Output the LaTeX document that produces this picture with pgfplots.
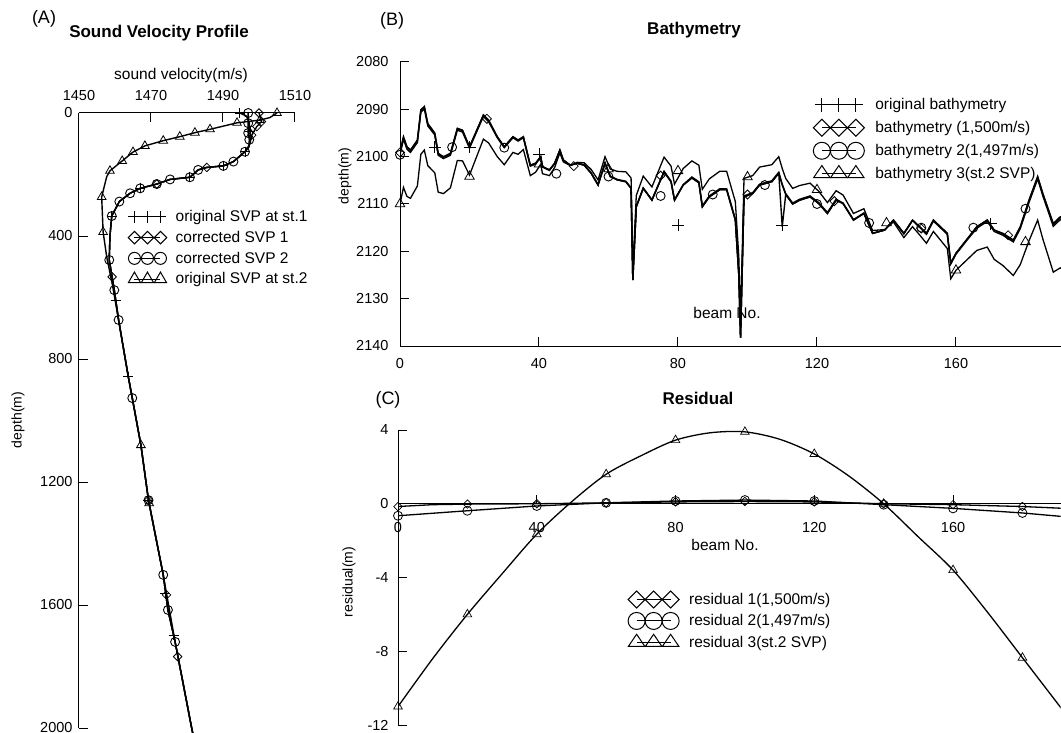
\documentclass[border=0pt]{standalone}
\usepackage{fontspec}
\setmainfont{Liberation Sans}
\usepackage{pgfplots}
\pgfplotsset{compat=1.18}
\usepackage{pgfplotstable}

% ---------------- Panel A: sound velocity profiles (depth, velocity)
\pgfplotstableread{
d v
0 1494.7
10 1496.5
30 1497.3
60 1497.5
90 1497.5
110 1497.2
126 1496.1
158 1492.9
172 1490.1
177 1485.5
185 1483.1
209 1480.8
216 1475.3
231 1471.6
245 1467.0
261 1464.2
288 1461.2
335 1459.1
400 1458.6
478 1458.4
533 1459.2
576 1459.8
673 1461.0
858 1463.7
927 1464.8
1080 1467.2
1259 1469.3
1502 1473.4
1616 1474.7
1720 1476.7
2000 1481.3
2050 1482.2
}\svpone
\pgfplotstableread{
d v
0 1500.0
28 1500.7
44 1499.4
72 1498.0
100 1497.5
126 1496.1
158 1492.9
172 1490.1
177 1485.5
185 1483.1
209 1480.8
216 1475.3
231 1471.6
245 1467.0
261 1464.2
288 1461.2
335 1459.1
400 1458.6
478 1458.4
533 1459.2
576 1459.8
673 1461.0
858 1463.7
927 1464.8
1080 1467.2
1259 1469.3
1502 1473.4
1616 1474.7
1720 1476.7
2000 1481.3
2050 1482.2
}\svpcorA
\pgfplotstableread{
d v
0 1497.0
33 1497.0
65 1497.0
87 1497.3
110 1497.2
126 1496.1
158 1492.9
172 1490.1
177 1485.5
185 1483.1
209 1480.8
216 1475.3
231 1471.6
245 1467.0
261 1464.2
288 1461.2
335 1459.1
400 1458.6
478 1458.4
533 1459.2
576 1459.8
673 1461.0
858 1463.7
927 1464.8
1080 1467.2
1259 1469.3
1502 1473.4
1616 1474.7
1720 1476.7
2000 1481.3
2050 1482.2
}\svpcorB
\pgfplotstableread{
d v
0 1505.0
15 1503.0
23 1500.3
32 1493.9
53 1486.4
64 1482.2
77 1478.0
90 1473.4
107 1468.3
127 1465.0
156 1462.0
188 1458.6
207 1457.7
273 1456.3
387 1456.7
468 1457.7
560 1459.3
673 1461.0
858 1463.7
1080 1467.2
1259 1469.3
1502 1473.4
1720 1476.7
2000 1481.3
2050 1482.2
}\svptwo
% marker positions
\pgfplotstableread{
d v
0 1494.7
60 1497.5
126 1496.1
172 1490.1
209 1480.8
245 1467.0
335 1459.1
608 1460.2
858 1463.7
1259 1469.3
1561 1474.0
1698 1476.3
}\mkone
\pgfplotstableread{
d v
0 1500.0
28 1500.7
44 1499.4
72 1498.0
177 1485.5
231 1471.6
533 1459.2
1259 1469.3
1567 1474.3
1768 1477.4
}\mkcorA
\pgfplotstableread{
d v
0 1497.0
33 1497.0
65 1497.0
87 1497.3
126 1496.1
158 1492.9
172 1490.1
185 1483.1
209 1480.8
216 1475.3
231 1471.6
245 1467.0
261 1464.2
288 1461.2
335 1459.1
478 1458.4
576 1459.8
673 1461.0
927 1464.8
1259 1469.3
1502 1473.4
1616 1474.7
1720 1476.7
}\mkcorB
\pgfplotstableread{
d v
0 1505.0
23 1500.3
32 1493.9
53 1486.4
64 1482.2
77 1478.0
90 1473.4
107 1468.3
127 1465.0
156 1462.0
188 1458.6
273 1456.3
387 1456.7
1080 1467.2
1269 1469.5
}\mktwo

% ---------------- Panel B: bathymetry
\pgfplotstableread{
x o b1 b2 b3
0 2099.0 2099.1 2099.6 2110.0
1 2095.8 2095.9 2096.3 2106.5
2 2097.9 2098.0 2098.4 2108.4
3 2098.6 2098.7 2099.1 2108.8
5 2096.5 2096.6 2097.0 2106.2
6 2090.1 2090.2 2090.6 2099.5
7 2089.4 2089.5 2089.9 2098.6
8 2093.0 2093.1 2093.5 2101.9
10 2095.0 2095.1 2095.4 2103.4
11 2099.3 2099.4 2099.7 2107.5
12.5 2100.0 2100.1 2100.4 2107.8
14.5 2099.3 2099.4 2099.7 2106.6
16.5 2094.0 2094.1 2094.4 2100.8
18 2094.4 2094.5 2094.8 2100.9
20 2097.9 2098.0 2098.2 2103.9
24 2091.2 2091.2 2091.5 2096.3
25.5 2092.3 2092.3 2092.6 2097.1
28 2095.8 2095.8 2096.0 2100.0
30 2097.9 2097.9 2098.1 2101.7
32.5 2095.8 2095.8 2096.0 2099.1
34 2096.5 2096.5 2096.7 2099.5
35.5 2095.8 2095.8 2096.0 2098.5
37.5 2101.8 2101.8 2102.0 2104.0
39 2101.4 2101.4 2101.6 2103.3
40.5 2100.0 2100.0 2100.1 2101.6
41 2102.1 2102.1 2102.2 2103.6
43 2102.8 2102.8 2102.9 2104.0
44.5 2101.4 2101.4 2101.5 2102.3
46 2098.6 2098.6 2098.7 2099.2
47 2100.7 2100.7 2100.8 2101.1
49 2101.8 2101.8 2101.8 2101.9
51 2101.4 2101.4 2101.4 2101.2
53 2101.8 2101.8 2101.7 2101.3
55 2103.5 2103.5 2103.4 2102.7
57 2106.0 2106.0 2105.9 2104.9
59 2101.4 2101.4 2101.3 2100.0
60.5 2104.2 2104.2 2104.1 2102.6
62.5 2104.9 2104.9 2104.8 2103.1
65 2105.3 2105.3 2105.2 2103.2
66.5 2106.7 2106.7 2106.6 2104.5
67 2126.1 2126.1 2126.0 2123.8
68 2110.6 2110.6 2110.5 2108.2
70 2106.7 2106.7 2106.6 2104.1
72.5 2109.2 2109.2 2109.1 2106.4
76 2103.2 2103.2 2103.1 2100.1
78 2105.3 2105.3 2105.2 2102.0
79 2109.2 2109.2 2109.1 2105.8
81.5 2106.0 2106.0 2105.9 2102.5
84 2104.5 2104.5 2104.3 2100.9
86 2105.5 2105.5 2105.3 2101.8
87 2110.6 2110.6 2110.4 2106.9
89 2108.5 2108.5 2108.3 2104.7
92 2107.0 2107.0 2106.8 2103.1
94 2107.0 2107.0 2106.8 2103.1
96.5 2113.4 2113.4 2113.2 2109.5
97.5 2125.0 2125.0 2124.8 2121.1
98 2138.3 2138.3 2138.1 2134.4
99 2108.5 2108.5 2108.3 2104.6
101.5 2107.8 2107.8 2107.6 2104.0
103.5 2106.0 2106.0 2105.8 2102.2
107 2105.3 2105.3 2105.1 2101.7
109 2103.5 2103.5 2103.3 2100.0
110 2114.8 2106.0 2105.8 2102.5
111 2108.0 2108.0 2107.8 2104.6
113 2110.0 2110.0 2109.8 2106.7
115 2109.2 2109.2 2109.0 2106.1
118 2108.5 2108.5 2108.3 2105.6
120.5 2109.9 2109.9 2109.7 2107.3
123 2112.0 2112.0 2111.8 2109.7
125.5 2109.2 2109.2 2109.0 2107.2
127.5 2109.9 2109.9 2109.8 2108.1
130.5 2113.4 2113.4 2113.3 2112.0
133.5 2112.0 2112.0 2111.9 2111.0
136 2116.2 2116.2 2116.2 2115.6
139.5 2115.5 2115.5 2115.5 2115.4
142 2113.4 2113.4 2113.4 2113.8
145 2116.2 2116.2 2116.3 2117.1
147.5 2113.4 2113.4 2113.5 2114.8
149.5 2114.8 2114.8 2114.9 2116.5
151.5 2116.2 2116.2 2116.4 2118.3
153.5 2113.4 2113.4 2113.6 2115.8
155.5 2114.8 2114.8 2115.0 2117.6
157.5 2116.2 2116.2 2116.4 2119.4
158.5 2122.5 2122.5 2122.7 2125.8
160 2120.4 2120.4 2120.6 2124.0
163 2117.6 2117.6 2117.8 2121.9
166 2114.8 2114.8 2115.1 2119.8
169 2113.4 2113.4 2113.7 2119.1
171 2115.5 2115.5 2115.8 2121.7
173.5 2116.2 2116.3 2116.6 2123.0
176.5 2117.6 2117.7 2118.0 2125.1
178.5 2114.8 2114.9 2115.2 2122.8
181 2109.2 2109.3 2109.7 2117.8
183.5 2104.2 2104.3 2104.7 2113.4
185 2107.8 2107.9 2108.3 2117.4
188 2114.1 2114.3 2114.7 2124.4
190 2112.7 2112.9 2113.3 2123.5
191.5 2113.0 2113.2 2113.6 2124.2
}\bathy
\pgfplotstableread{
x d
10 2098.0
20 2098.0
40 2099.5
80 2114.5
110 2114.5
170 2114.2
}\mkbo
\pgfplotstableread{
x d
0 2099.1
25 2092.0
50 2102.0
75 2104.0
100 2108.0
125 2109.4
150 2115.2
175 2116.6
}\mkbone
\pgfplotstableread{
x d
0 2099.6
15 2098.0
30 2098.1
45 2103.6
60 2104.2
75 2108.3
90 2108.0
105 2106.0
120 2110.0
135 2114.0
150 2115.0
165 2115.0
180 2111.0
}\mkbtwo
\pgfplotstableread{
x d
0 2110.0
20 2104.2
40 2101.6
60 2102.6
80 2103.0
100 2104.3
120 2107.0
140 2114.0
160 2124.0
180 2118.0
}\mkbthree

% ---------------- Panel C: residuals
\pgfplotstableread{
x r
0 -0.15
10 -0.05
20 -0.02
40 0.0
60 0.05
80 0.1
100 0.12
120 0.1
140 0.0
160 -0.05
180 -0.15
192 -0.25
}\resone
\pgfplotstableread{
x r
0 -0.65
20 -0.38
40 -0.12
60 0.05
80 0.15
100 0.2
120 0.15
140 -0.05
160 -0.25
180 -0.5
192 -0.7
}\restwo
\pgfplotstableread{
x r
0 -11.0
10 -8.4
20 -6.0
30 -3.8
40 -1.65
50 0.1
60 1.6
70 2.6
80 3.45
90 3.85
100 3.9
110 3.5
120 2.7
130 1.5
140 0.0
150 -1.8
160 -3.6
170 -5.9
180 -8.35
190 -10.8
192 -11.3
}\resthree

\pgfplotsset{
  myaxis/.style={
    scale only axis,
    tick align=inside,
    major tick length=9pt,
    axis line style={line width=1pt, black},
    every tick/.style={line width=1pt, black},
    tick label style={font=\fontsize{14.5}{16}\selectfont},
    /pgf/number format/assume math mode=true,
    /pgf/number format/1000 sep={},
    legend cell align=left,
  },
}
\newcommand{\labfont}{\fontsize{15.5}{18}\selectfont}
\newcommand{\ylabfont}{\fontsize{14}{16}\selectfont}

\begin{document}
\begin{tikzpicture}
\useasboundingbox (0pt,0pt) rectangle (1061pt,-733pt);
\clip (0pt,0pt) rectangle (1061pt,-733pt);

% ================= Panel A
\begin{axis}[myaxis,
  at={(79pt,-113pt)}, anchor=north west,
  width=216pt, height=615pt,
  xmin=1450, xmax=1510, ymin=-2000, ymax=0,
  axis x line*=top, axis y line*=left,
  xtick={1450,1470,1490,1510},
  ytick={-2000,-1600,-1200,-800,-400,0},
  yticklabels={2000,1600,1200,800,400,0},
  xticklabel shift=9pt, yticklabel shift=3pt,
  clip=false,
  legend style={draw=none, fill=none, at={(0.227,0.845)}, anchor=north west,
    font=\labfont, row sep=4pt, column sep=7pt, inner sep=0pt},
  legend image code/.code={\draw[#1] plot coordinates {(0pt,0pt) (13pt,0pt) (26pt,0pt)};},
]
\addlegendimage{black, line width=1pt, mark=+, mark size=6pt}
\addlegendentry{original SVP at st.1}
\addlegendimage{black, line width=1pt, mark=square, mark size=4.4pt, mark options={rotate=45}}
\addlegendentry{corrected SVP 1}
\addlegendimage{black, line width=1pt, mark=o, mark size=6pt}
\addlegendentry{corrected SVP 2}
\addlegendimage{black, line width=1pt, mark=triangle, mark size=7pt}
\addlegendentry{original SVP at st.2}

\addplot[forget plot, black, line width=1.4pt] table[x=v, y expr=-\thisrow{d}] {\svptwo};
\addplot[forget plot, black, line width=1.4pt] table[x=v, y expr=-\thisrow{d}] {\svpone};
\addplot[forget plot, black, line width=1.4pt] table[x=v, y expr=-\thisrow{d}] {\svpcorA};
\addplot[forget plot, black, line width=1.4pt] table[x=v, y expr=-\thisrow{d}] {\svpcorB};
\addplot[forget plot, only marks, black, mark=+, mark size=5pt, mark options={line width=0.9pt}] table[x=v, y expr=-\thisrow{d}] {\mkone};
\addplot[forget plot, only marks, black, mark=square, mark size=3pt, mark options={rotate=45, line width=0.8pt, fill=white}] table[x=v, y expr=-\thisrow{d}] {\mkcorA};
\addplot[forget plot, only marks, black, mark=o, mark size=4.5pt, mark options={line width=0.9pt}] table[x=v, y expr=-\thisrow{d}] {\mkcorB};
\addplot[forget plot, only marks, black, mark=triangle, mark size=5pt, mark options={line width=0.8pt, fill=white}] table[x=v, y expr=-\thisrow{d}] {\mktwo};
\end{axis}

% ================= Panel B
\begin{axis}[myaxis,
  at={(400pt,-62pt)}, anchor=north west,
  width=663.7pt, height=284pt,
  xmin=0, xmax=191, ymin=-2140, ymax=-2080,
  axis x line*=bottom, axis y line*=left,
  xtick={0,40,80,120,160},
  ytick={-2140,-2130,-2120,-2110,-2100,-2090,-2080},
  yticklabels={2140,2130,2120,2110,2100,2090,2080},
  xticklabel shift=9pt, yticklabel shift=8pt,
  legend style={draw=none, fill=none, at={(0.6225,0.879)}, anchor=north west,
    font=\labfont, row sep=6pt, column sep=9pt, inner sep=0pt},
  legend image code/.code={\draw[#1] plot coordinates {(0pt,0pt) (17pt,0pt) (34pt,0pt)};},
]
\addlegendimage{black, line width=1pt, mark=+, mark size=7pt}
\addlegendentry{original bathymetry}
\addlegendimage{black, line width=1pt, mark=square, mark size=6pt, mark options={rotate=45}}
\addlegendentry{bathymetry (1,500m/s)}
\addlegendimage{black, line width=1pt, mark=o, mark size=8.5pt}
\addlegendentry{bathymetry 2(1,497m/s)}
\addlegendimage{black, line width=1pt, mark=triangle, mark size=9.5pt, mark options={yscale=0.85}}
\addlegendentry{bathymetry 3(st.2 SVP)}

\addplot[forget plot, black, line width=1.3pt] table[x=x, y expr=-\thisrow{b3}] {\bathy};
\addplot[forget plot, black, line width=1.4pt] table[x=x, y expr=-\thisrow{b2}] {\bathy};
\addplot[forget plot, black, line width=1.4pt] table[x=x, y expr=-\thisrow{b1}] {\bathy};
\addplot[forget plot, black, line width=1.4pt] table[x=x, y expr=-\thisrow{o}] {\bathy};
\addplot[forget plot, only marks, black, mark=+, mark size=6pt, mark options={line width=0.9pt}] table[x=x, y expr=-\thisrow{d}] {\mkbo};
\addplot[forget plot, only marks, black, mark=square, mark size=3.2pt, mark options={rotate=45, line width=0.8pt, fill=white}] table[x=x, y expr=-\thisrow{d}] {\mkbone};
\addplot[forget plot, only marks, black, mark=o, mark size=4.5pt, mark options={line width=0.9pt}] table[x=x, y expr=-\thisrow{d}] {\mkbtwo};
\addplot[forget plot, only marks, black, mark=triangle, mark size=5.5pt, mark options={line width=0.8pt, fill=white}] table[x=x, y expr=-\thisrow{d}] {\mkbthree};
\end{axis}

% ================= Panel C
\begin{axis}[myaxis,
  at={(398pt,-430pt)}, anchor=north west,
  width=662.6pt, height=295pt,
  xmin=0, xmax=191, ymin=-12, ymax=4,
  axis x line*=middle, axis y line*=left,
  hide obscured x ticks=false,
  xtick={0,40,80,120,160},
  ytick={-12,-8,-4,0,4},
  xticklabel shift=15pt, yticklabel shift=6pt,
  legend style={draw=none, fill=none, at={(0.347,0.455)}, anchor=north west,
    font=\labfont, row sep=4.5pt, column sep=8pt, inner sep=0pt},
  legend image code/.code={\draw[#1] plot coordinates {(0pt,0pt) (17pt,0pt) (34pt,0pt)};},
]
\addlegendimage{black, line width=1pt, mark=square, mark size=6pt, mark options={rotate=45}}
\addlegendentry{residual 1(1,500m/s)}
\addlegendimage{black, line width=1pt, mark=o, mark size=8.5pt}
\addlegendentry{residual 2(1,497m/s)}
\addlegendimage{black, line width=1pt, mark=triangle, mark size=9.5pt, mark options={yscale=0.85}}
\addlegendentry{residual 3(st.2 SVP)}

\addplot[forget plot, black, line width=1.3pt, smooth, mark=triangle, mark size=5pt,
  mark options={line width=0.7pt, fill=white}, mark indices={1,3,5,7,9,11,13,15,17,19}] table[x=x, y=r] {\resthree};
\addplot[forget plot, black, line width=1.3pt, mark=o, mark size=4.5pt,
  mark options={line width=0.8pt}, mark indices={1,2,3,4,5,6,7,8,9,10}] table[x=x, y=r] {\restwo};
\addplot[forget plot, black, line width=1.3pt, mark=square, mark size=3pt,
  mark options={rotate=45, line width=0.7pt, fill=white}, mark indices={1,3,4,5,6,7,8,9,10,11}] table[x=x, y=r] {\resone};
\end{axis}

% ================= texts
\node[font=\fontsize{18}{20}\selectfont] at (44pt,-19pt) {(A)};
\node[font=\fontsize{17}{20}\selectfont\bfseries] at (159pt,-33pt) {Sound Velocity Profile};
\node[font=\labfont] at (181pt,-75pt) {sound velocity(m/s)};
\node[font=\ylabfont, rotate=90] at (18pt,-420pt) {depth(m)};

\node[font=\fontsize{18}{20}\selectfont] at (392pt,-21pt) {(B)};
\node[font=\fontsize{17}{20}\selectfont\bfseries] at (694pt,-30pt) {Bathymetry};
\node[font=\ylabfont, rotate=90] at (345pt,-176pt) {depth(m)};
\node[font=\labfont] at (727pt,-313pt) {beam No.};

\node[font=\fontsize{18}{20}\selectfont] at (388pt,-400pt) {(C)};
\node[font=\fontsize{17}{20}\selectfont\bfseries] at (698pt,-398pt) {Residual};
\node[font=\ylabfont, rotate=90] at (349pt,-582pt) {residual(m)};
\node[font=\labfont] at (725pt,-545pt) {beam No.};
\end{tikzpicture}
\end{document}
